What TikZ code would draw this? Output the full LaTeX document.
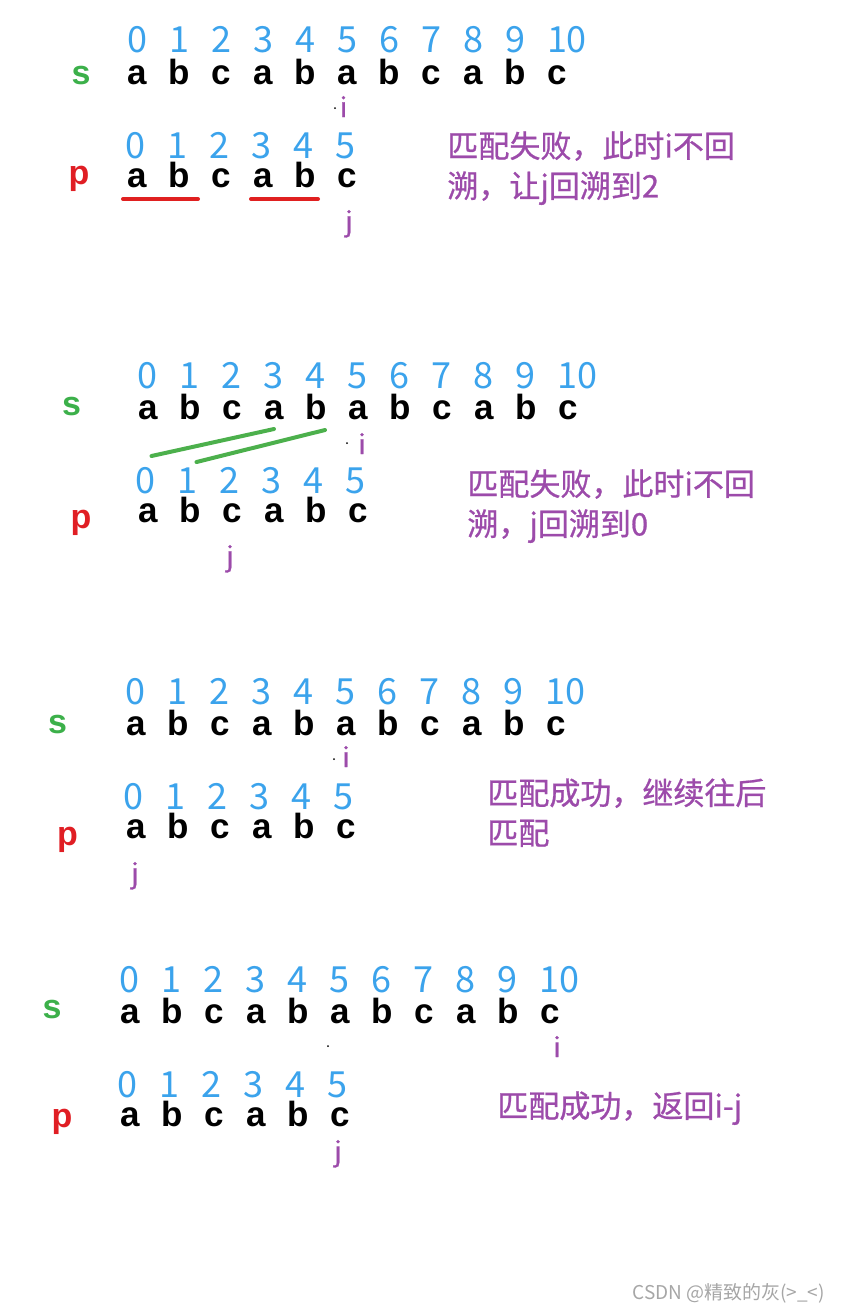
\documentclass[tikz,border=0pt]{standalone}
\usepackage{fontspec}
\setmainfont{Liberation Sans}
\newfontfamily\cjk{Noto Sans CJK SC}
\newfontfamily\cjkmid[FakeBold=0.8]{Noto Sans CJK SC}
\definecolor{idxblue}{RGB}{59,163,236}
\definecolor{sgreen}{RGB}{60,176,74}
\definecolor{pred}{RGB}{224,30,36}
\definecolor{ptrpurple}{RGB}{156,75,170}
\definecolor{markgreen}{RGB}{76,176,76}
\definecolor{markred}{RGB}{224,32,32}
\tikzset{
  idx/.style={font=\cjk\fontsize{18}{20}\selectfont, text=idxblue, inner sep=0pt, text height=13pt, text depth=0pt, anchor=west},
  chr/.style={font=\bfseries\fontsize{17.5}{20}\selectfont, inner sep=0pt, text height=9.25pt, text depth=0pt},
  strname/.style={font=\bfseries\fontsize{17}{20}\selectfont, inner sep=0pt, anchor=base},
  ptr/.style={font=\cjkmid\fontsize{13.5}{16}\selectfont, text=ptrpurple, inner sep=0pt, anchor=base},
  note/.style={font=\cjkmid\fontsize{15.5}{20}\selectfont, text=ptrpurple, inner sep=0pt, anchor=north west, align=left},
  spot/.style={circle, fill=black, inner sep=0pt, minimum size=1pt},
  underl/.style={markred, line width=2pt, line cap=round},
  matchl/.style={markgreen, line width=2pt, line cap=round}
}
\begin{document}
\begin{tikzpicture}[x=0.5pt, y=-0.5pt]
\useasboundingbox (0,0) rectangle (847,1313);

% the four rows of s and p
\foreach \n/\ox/\oy in {1/136.5/39.5, 2/147/375, 3/135/691, 4/129/979}
{
	\foreach \k in {0,...,10}
		\node[idx] (sd\n-\k) at (\ox+42*\k-9.9, \oy) {\k};
	\foreach \c [count=\k from 0] in {a,b,c,a,b,a,b,c,a,b,c}
		\node[chr] (sl\n-\k) at (\ox+1+42*\k, \oy+35.5) {\c};
	\foreach \k in {0,...,5}
		\node[idx] (pd\n-\k) at (\ox-2+42*\k-9.9, \oy+105.5) {\k};
	\foreach \c [count=\k from 0] in {a,b,c,a,b,c}
		\node[chr] (pl\n-\k) at (\ox+1+42*\k, \oy+138.5) {\c};
}

% step 1
\node[strname, text=sgreen] (s1) at (81,84) {s};
\node[strname, text=pred] (p1) at (79,184) {p};
\node[spot] (dot1) at (335,108) {};
\node[ptr] (i1) at (343.5,117) {i};
\node[ptr] (j1) at (349,231) {j};
\node[note] (note1) at (447,131) {匹配失败，此时i不回\\溯，让j回溯到2};
\draw[underl] ([xshift=-7.25pt,yshift=-10.5pt]pl1-0.center) -- ([xshift=9.25pt,yshift=-10.5pt]pl1-1.center);
\draw[underl] ([xshift=-6.25pt,yshift=-10.5pt]pl1-3.center) -- ([xshift=6.25pt,yshift=-10.5pt]pl1-4.center);

% step 2
\node[strname, text=sgreen] (s2) at (71.5,415) {s};
\node[strname, text=pred] (p2) at (81,528) {p};
\node[spot] (dot2) at (347,443) {};
\node[ptr] (i2) at (362,454) {i};
\node[ptr] (j2) at (230,566) {j};
\node[note] (note2) at (467,469) {匹配失败，此时i不回\\溯，j回溯到0};
\draw[matchl] ([xshift=3pt,yshift=12.25pt]pd2-0.center) -- ([yshift=-9.25pt]sl2-3.center);
\draw[matchl] ([xshift=4.5pt,yshift=9.25pt]pd2-1.center) -- ([xshift=4.5pt,yshift=-9.75pt]sl2-4.center);

% step 3
\node[strname, text=sgreen] (s3) at (57.5,733) {s};
\node[strname, text=pred] (p3) at (67.5,845) {p};
\node[spot] (dot3) at (334,759) {};
\node[ptr] (i3) at (346,767) {i};
\node[ptr] (j3) at (135,883) {j};
\node[note] (note3) at (487,778) {匹配成功，继续往后\\匹配};

% step 4
\node[strname, text=sgreen] (s4) at (52,1018) {s};
\node[strname, text=pred] (p4) at (62,1127) {p};
\node[spot] (dot4) at (328,1046) {};
\node[ptr] (i4) at (557,1057) {i};
\node[ptr] (j4) at (338,1161) {j};
\node[note] (note4) at (497,1091) {匹配成功，返回i-j};

\node[font=\cjk\fontsize{9.5}{12}\selectfont, text=black!35, anchor=east] (wm) at (832,1293) {CSDN @精致的灰(>\_<)};
\end{tikzpicture}
\end{document}
